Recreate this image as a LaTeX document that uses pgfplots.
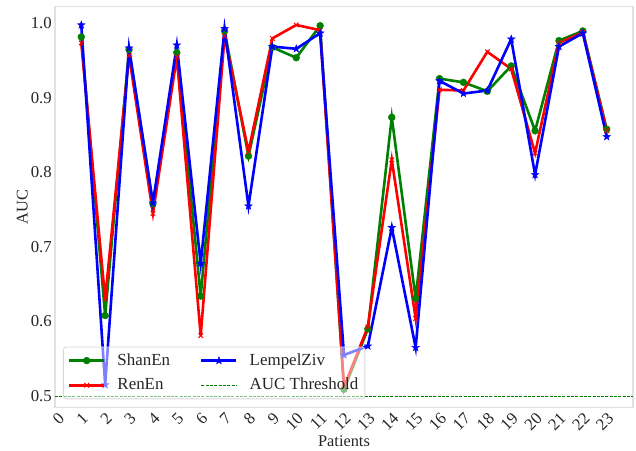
\documentclass[border=0pt]{standalone}
\usepackage{fontspec}
\setmainfont{Liberation Serif}
\usepackage{pgfplots}
\pgfplotsset{compat=1.18}
\definecolor{mgreen}{RGB}{0,128,0}
\definecolor{framegray}{RGB}{225,225,225}
\definecolor{legframe}{RGB}{215,215,215}
\definecolor{txt}{RGB}{38,38,38}
\pgfdeclareplotmark{fstar}{%
 \pgfpathmoveto{\pgfpointpolar{90}{\pgfplotmarksize}}%
 \pgfpathlineto{\pgfpointpolar{126}{0.4\pgfplotmarksize}}%
 \pgfpathlineto{\pgfpointpolar{162}{\pgfplotmarksize}}%
 \pgfpathlineto{\pgfpointpolar{198}{0.4\pgfplotmarksize}}%
 \pgfpathlineto{\pgfpointpolar{234}{\pgfplotmarksize}}%
 \pgfpathlineto{\pgfpointpolar{270}{0.4\pgfplotmarksize}}%
 \pgfpathlineto{\pgfpointpolar{306}{\pgfplotmarksize}}%
 \pgfpathlineto{\pgfpointpolar{342}{0.4\pgfplotmarksize}}%
 \pgfpathlineto{\pgfpointpolar{18}{\pgfplotmarksize}}%
 \pgfpathlineto{\pgfpointpolar{54}{0.4\pgfplotmarksize}}%
 \pgfpathclose\pgfusepathqfillstroke}
\pgfplotstableread{
x shan ren lz
1 0.982 0.974 0.998
2 0.608 0.630 0.515
3 0.965 0.957 0.967
4 0.758 0.745 0.759
5 0.961 0.955 0.971
6 0.634 0.581 0.678
7 0.990 0.983 0.993
8 0.822 0.828 0.755
9 0.968 0.980 0.969
10 0.954 0.998 0.966
11 0.997 0.991 0.987
12 0.509 0.512 0.555
13 0.590 0.593 0.567
14 0.874 0.817 0.726
15 0.631 0.604 0.565
16 0.926 0.911 0.923
17 0.921 0.910 0.906
18 0.909 0.962 0.910
19 0.943 0.939 0.979
20 0.856 0.826 0.797
21 0.977 0.974 0.969
22 0.990 0.988 0.987
23 0.858 0.856 0.848
}\datatable
\begin{document}
\fontsize{16.4}{19.7}\selectfont
\begin{tikzpicture}
\begin{axis}[name=ax, scale only axis, width=578bp, height=400.5bp,
 xmin=-0.1, xmax=24.1, ymin=0.4848, ymax=1.0224,
 xtick={0,...,23}, ytick={0.5,0.6,0.7,0.8,0.9,1.0},
 yticklabel style={/pgf/number format/fixed, /pgf/number format/fixed zerofill, /pgf/number format/precision=1},
 /pgf/number format/assume math mode=true,
 major tick length=0pt,
 axis line style={framegray, line width=1.2bp},
 tick label style={font=\fontsize{16.8}{20}\selectfont, text=txt},
 xticklabel style={rotate=45, anchor=north east, inner sep=0pt},
 xticklabel shift=4bp,
 yticklabel style={anchor=east, inner sep=0pt},
 yticklabel shift=3bp,
 xlabel={Patients}, ylabel={AUC},
 label style={font=\fontsize{16.4}{19.7}\selectfont, text=txt},
 xlabel style={at={(axis description cs:0.5,-0.0699)}, anchor=north, inner sep=0pt},
 ylabel style={at={(axis description cs:-0.0467,0.5)}, anchor=south, inner sep=0pt},
 legend columns=2, transpose legend,
 legend cell align=left,
 legend style={at={(axis description cs:0.0138,0.02)}, anchor=south west,
   draw=legframe, line width=0.8bp, fill=white, fill opacity=0.5, draw opacity=1, text opacity=1,
   rounded corners=3bp, font=\fontsize{17}{20.4}\selectfont, text=txt,
   inner xsep=4.5bp, inner ysep=4.5bp, row sep=6.5bp,
   /tikz/every even column/.append style={column sep=28bp},
   /tikz/every odd column/.append style={column sep=10bp}},
 legend image code/.code={\draw[mark repeat=2,mark phase=2,fill opacity=1,#1] plot coordinates {(0bp,0bp) (17.5bp,0bp) (35bp,0bp)};},
]
\addplot[mgreen, line width=2.6bp, mark=*, mark size=3.4bp, mark options={solid, fill=mgreen, draw=mgreen, line width=0.5bp}] table[x=x, y=shan] {\datatable};
\addlegendentry{ShanEn}
\addplot[red, line width=2.6bp, mark=x, mark size=3.2bp, mark options={solid, line width=1bp}] table[x=x, y=ren] {\datatable};
\addlegendentry{RenEn}
\addplot[blue, line width=2.6bp, mark=fstar, mark size=4bp, mark options={solid, fill=blue, draw=blue, line width=0.4bp}] table[x=x, y=lz] {\datatable};
\addlegendentry{LempelZiv}
\addplot[mgreen, line width=0.8bp, dash pattern=on 3bp off 1.3bp] coordinates {(-0.1,0.5) (24.1,0.5)};
\addlegendentry{AUC Threshold}
\end{axis}
\path (ax.south west) ++(-55bp,-43.7bp) rectangle ++(636bp,451bp);
\end{tikzpicture}
\end{document}
